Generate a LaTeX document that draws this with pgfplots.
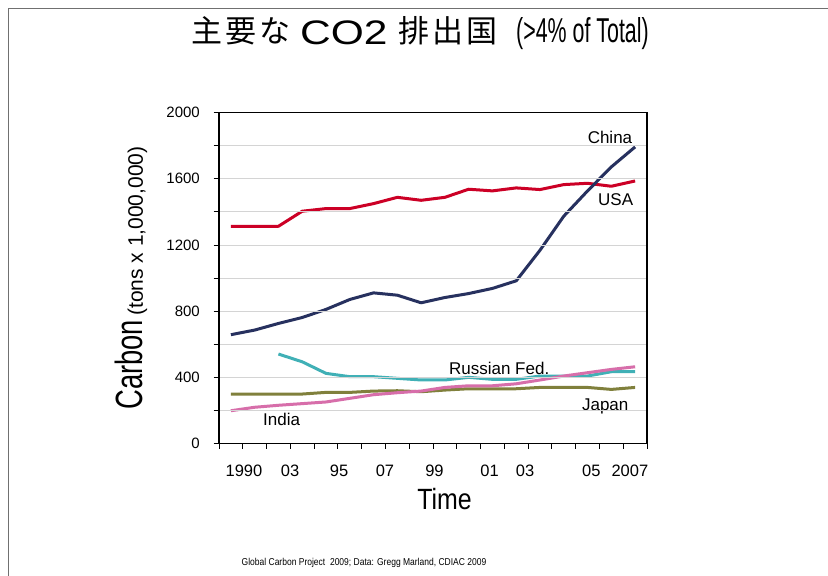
\documentclass[border=0pt]{standalone}
\usepackage{fontspec}
\usepackage{pgfplots}
\pgfplotsset{compat=1.18}
\setmainfont{Liberation Sans}
\newfontfamily\cjktitle{Noto Sans CJK JP}[LetterSpace=11]
\newfontfamily\widelat{Liberation Sans}[FakeStretch=1.25]
\newfontfamily\titlelat{Liberation Sans}[FakeStretch=0.62]
\newfontfamily\carbonfont{Liberation Sans}[FakeStretch=0.72]
\newfontfamily\timefont{Liberation Sans}[FakeStretch=0.85]

\definecolor{usacol}{RGB}{204,0,38}
\definecolor{chinacol}{RGB}{39,49,95}
\definecolor{russiacol}{RGB}{64,176,182}
\definecolor{japancol}{RGB}{128,128,60}
\definecolor{indiacol}{RGB}{215,110,170}
\definecolor{gridgray}{RGB}{212,212,212}
\definecolor{slideborder}{RGB}{112,112,112}

% annual emissions, million tonnes of carbon
\pgfplotstableread{
year usa china japan india
1990 1313 657 298 197
1991 1313 685 298 218
1992 1313 725 298 230
1993 1404 761 298 240
1994 1420 810 308 250
1995 1420 870 308 272
1996 1450 910 316 294
1997 1488 896 318 306
1998 1470 850 312 316
1999 1488 882 322 338
2000 1537 906 330 348
2001 1527 937 330 348
2002 1545 983 330 360
2003 1535 1168 338 383
2004 1565 1374 338 407
2005 1573 1527 338 427
2006 1555 1672 326 447
2007 1587 1793 338 463
}\emissions

\pgfplotstableread{
year russia
1992 540
1993 493
1994 423
1995 403
1996 403
1997 393
1998 383
1999 383
2000 399
2001 387
2002 387
2003 407
2004 407
2005 407
2006 433
2007 433
}\russia

\begin{document}
\begin{tikzpicture}
\path[use as bounding box] (0,0) rectangle (828bp,576bp);
\fill[white] (0,0) rectangle (828bp,576bp);
\draw[color=slideborder, line width=1.3bp] (8.7bp,0) -- (8.7bp,567.3bp) -- (828bp,567.3bp);

% title
\node[anchor=base west, inner sep=0pt] at (191bp,533.5bp)
  {\cjktitle\fontsize{31bp}{31bp}\selectfont 主要な};
\node[anchor=base west, inner sep=0pt] at (300bp,531.5bp)
  {\widelat\fontsize{34bp}{34bp}\selectfont CO2};
\node[anchor=base west, inner sep=0pt] at (398bp,533.5bp)
  {\cjktitle\fontsize{31bp}{31bp}\selectfont 排出国};
\node[anchor=base west, inner sep=0pt] at (516bp,533bp)
  {\titlelat\fontsize{34.5bp}{34.5bp}\selectfont (>4\% of Total)};
\node[anchor=base west, inner sep=0pt] at (241.5bp,11bp)
  {\timefont\fontsize{10bp}{10bp}\selectfont Global Carbon Project\ \ 2009; Data: Gregg Marland, CDIAC 2009};

\begin{axis}[
  at={(219bp,132.7bp)}, anchor=south west,
  width=428bp, height=330.6bp, scale only axis,
  xmin=1989.5, xmax=2007.5, ymin=0, ymax=2000,
  axis line style={line width=1.4bp, black},
  tick align=outside, tick pos=left,
  major tick length=0pt, minor tick length=5.5bp,
  tick style={black, line width=0.8bp},
  xtick={1990.55,1992.49,1994.55,1996.48,1998.56,2000.88,2002.37,2005.16,2006.78},
  xticklabels={1990,03,95,07,99,01,03,05,2007},
  minor xtick={1989.5,1990.5,...,2007.5},
  ytick={0,400,...,2000},
  minor ytick={0,200,...,2000},
  ymajorgrids=false, yminorgrids=true, xmajorgrids=false, xminorgrids=false,
  minor grid style={draw=gridgray, line width=0.8bp},
  xticklabel style={anchor=base, inner sep=0pt, yshift=-33.4bp,
    font=\fontsize{16.5bp}{16.5bp}\selectfont},
  yticklabel style={anchor=east, inner sep=0pt, xshift=-19bp,
    font=\fontsize{15bp}{15bp}\selectfont},
  /pgf/number format/assume math mode=true,
  /pgf/number format/1000 sep={},
  ylabel={{\carbonfont\fontsize{38bp}{38bp}\selectfont Carbon}\hspace{4bp}{\fontsize{21bp}{21bp}\selectfont (tons x 1,000,000)}},
  ylabel style={at={(axis description cs:-0.1776,0.5)}, anchor=base, inner sep=0pt},
  xlabel={Time},
  xlabel style={at={(axis description cs:0.527,-0.2015)}, anchor=base, inner sep=0pt,
    font=\timefont\fontsize{29.3bp}{29.3bp}\selectfont},
  axis on top,
  every axis plot/.append style={line width=3bp, line join=round, no marks},
]
\addplot[color=usacol] table[x=year, y=usa] {\emissions};
\addplot[color=russiacol] table[x=year, y=russia] {\russia};
\addplot[color=japancol] table[x=year, y=japan] {\emissions};
\addplot[color=indiacol] table[x=year, y=india] {\emissions};
\addplot[color=chinacol] table[x=year, y=china] {\emissions};

\begin{scope}[every node/.style={anchor=base west, inner sep=0pt, font=\fontsize{17bp}{17bp}\selectfont}]
\node at (axis cs:2005.0,1813) {China};
\node at (axis cs:2005.44,1440) {USA};
\node at (axis cs:1999.17,419) {Russian Fed.};
\node at (axis cs:2004.76,197) {Japan};
\node at (axis cs:1991.35,110.6) {India};
\end{scope}
\end{axis}
\end{tikzpicture}
\end{document}
